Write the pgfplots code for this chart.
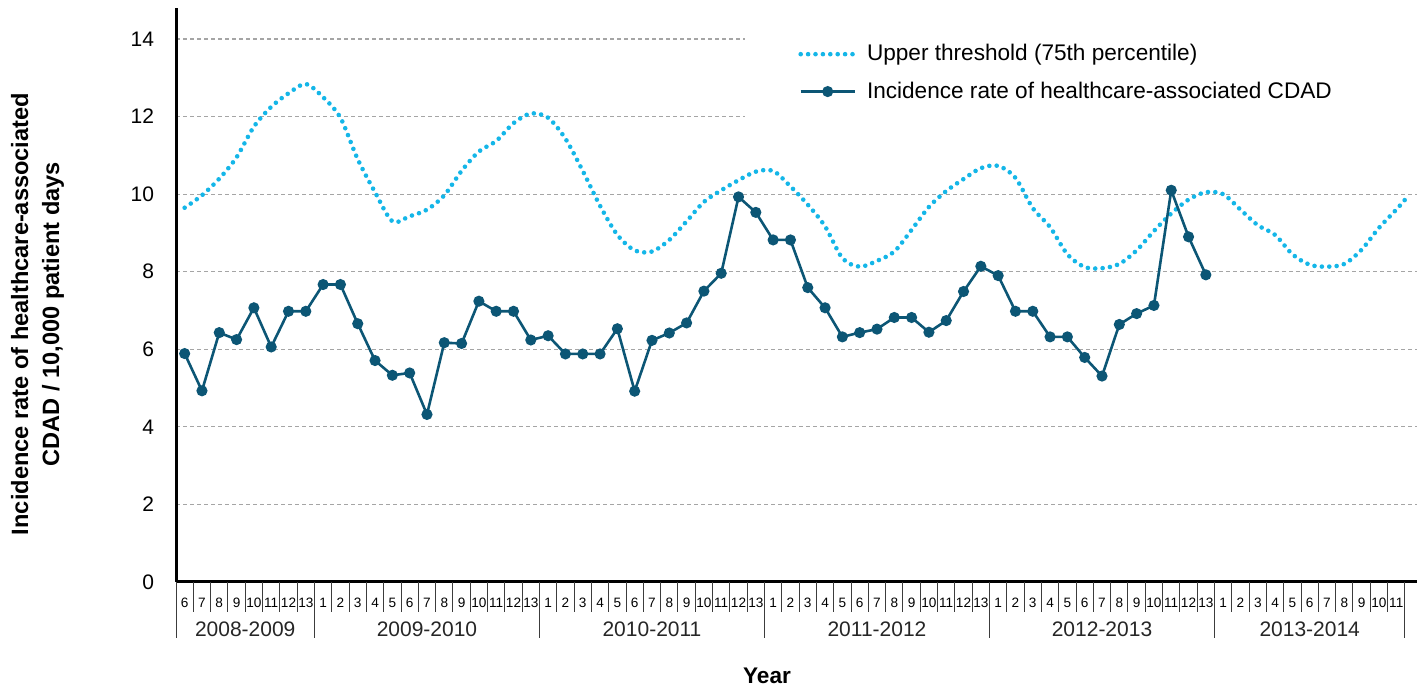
\documentclass[border=0pt]{standalone}
\usepackage{fontspec}
\setmainfont{Liberation Sans}
\usepackage{pgfplots}
\pgfplotsset{compat=1.18}
\definecolor{cdad}{RGB}{12,86,117}
\definecolor{thr}{RGB}{20,182,232}
\definecolor{gridgray}{RGB}{165,165,165}
\definecolor{sepcol}{RGB}{60,60,60}

\pgfplotstableread{
x y
0 9.65
1 9.97
2 10.40
3 10.95
4 11.74
5 12.25
6 12.60
7 12.84
8 12.50
9 11.97
10 10.90
11 10.05
12 9.30
13 9.43
14 9.60
15 9.97
16 10.60
17 11.10
18 11.37
19 11.83
20 12.08
21 11.97
22 11.43
23 10.60
24 9.70
25 8.95
26 8.55
27 8.52
28 8.82
29 9.30
30 9.80
31 10.10
32 10.36
33 10.58
34 10.60
35 10.20
36 9.73
37 9.17
38 8.35
39 8.13
40 8.28
41 8.52
42 9.08
43 9.67
44 10.08
45 10.39
46 10.67
47 10.73
48 10.42
49 9.64
50 9.15
51 8.45
52 8.12
53 8.09
54 8.20
55 8.55
56 9.05
57 9.50
58 9.86
59 10.05
60 10.00
61 9.60
62 9.20
63 8.95
64 8.45
65 8.18
66 8.13
67 8.20
68 8.57
69 9.13
70 9.60
70.55 9.88
}\thrtable

\pgfplotstableread{
x y
0 5.89
1 4.93
2 6.43
3 6.25
4 7.07
5 6.06
6 6.98
7 6.98
8 7.67
9 7.67
10 6.66
11 5.71
12 5.33
13 5.39
14 4.32
15 6.17
16 6.15
17 7.24
18 6.98
19 6.98
20 6.24
21 6.35
22 5.88
23 5.88
24 5.88
25 6.53
26 4.92
27 6.23
28 6.42
29 6.68
30 7.50
31 7.96
32 9.93
33 9.53
34 8.82
35 8.82
36 7.59
37 7.07
38 6.32
39 6.43
40 6.52
41 6.82
42 6.82
43 6.44
44 6.74
45 7.49
46 8.14
47 7.90
48 6.98
49 6.98
50 6.32
51 6.32
52 5.79
53 5.31
54 6.64
55 6.92
56 7.13
57 10.10
58 8.90
59 7.92
}\cdadtable

\begin{document}
\begin{tikzpicture}
\path[use as bounding box] (-88pt,-53.5pt) rectangle (623pt,291pt);
\begin{axis}[
  at={(0pt,0pt)}, anchor=south west, scale only axis,
  width=620.5pt, height=287pt,
  xmin=-0.5, xmax=71.2, ymin=0, ymax=14.8,
  axis lines*=left,
  axis line style={line width=1.5pt, black},
  ytick={0,2,...,14},
  xtick={0,...,70},
  xticklabels={6,7,8,9,10,11,12,13,
    1,2,3,4,5,6,7,8,9,10,11,12,13,
    1,2,3,4,5,6,7,8,9,10,11,12,13,
    1,2,3,4,5,6,7,8,9,10,11,12,13,
    1,2,3,4,5,6,7,8,9,10,11,12,13,
    1,2,3,4,5,6,7,8,9,10,11},
  major tick length=0pt,
  ymajorgrids,
  grid style={gridgray, line width=0.6pt, dash pattern=on 2pt off 1.5pt},
  /pgf/number format/assume math mode=true,
  yticklabel style={font=\fontsize{10.5}{12}\selectfont, anchor=east, xshift=-7.5pt},
  xticklabel style={font=\fontsize{6.8}{8}\selectfont, anchor=center, yshift=-10.5pt},
  clip=false,
  legend cell align=left,
  legend style={at={(rel axis cs:0.4585,0.958)}, anchor=north west,
    fill=white, draw=none, inner xsep=26.5pt, inner ysep=4pt,
    font=\fontsize{11.3}{13}\selectfont, row sep=5pt,
    /tikz/every odd column/.append style={column sep=3pt}},
  legend image code/.code={\draw[mark repeat=2,mark phase=2,#1] plot coordinates {(0pt,0pt) (13.5pt,0pt) (27pt,0pt)};},
]
\addplot[thr, line width=2.3pt, line cap=round, dash pattern=on 0pt off 3.7pt, smooth, tension=0.5] table[x=x,y=y] {\thrtable};
\addlegendentry{Upper threshold (75th percentile)}
\addplot[cdad, line width=1.3pt, mark=*, mark size=2.1pt, mark options={solid, fill=cdad, draw=cdad}] table[x=x,y=y] {\cdadtable};
\addlegendentry{Incidence rate of healthcare-associated CDAD}

\fill[white] (axis cs:32.4,11.6) rectangle (axis cs:71.3,14.5);

\pgfplotsinvokeforeach{-0.5,0.5,...,70.5}{
  \draw[sepcol, line width=0.5pt] (axis cs:#1,0) -- ++(0pt,-15pt);
}
\pgfplotsinvokeforeach{-0.5,7.5,20.5,33.5,46.5,59.5,70.5}{
  \draw[sepcol, line width=0.5pt] (axis cs:#1,0) -- ++(0pt,-28pt);
}
\node[font=\fontsize{10.5}{12}\selectfont, text=black!85] at ([yshift=-23.5pt]axis cs:3.5,0) {2008-2009};
\node[font=\fontsize{10.5}{12}\selectfont, text=black!85] at ([yshift=-23.5pt]axis cs:14,0) {2009-2010};
\node[font=\fontsize{10.5}{12}\selectfont, text=black!85] at ([yshift=-23.5pt]axis cs:27,0) {2010-2011};
\node[font=\fontsize{10.5}{12}\selectfont, text=black!85] at ([yshift=-23.5pt]axis cs:40,0) {2011-2012};
\node[font=\fontsize{10.5}{12}\selectfont, text=black!85] at ([yshift=-23.5pt]axis cs:53,0) {2012-2013};
\node[font=\fontsize{10.5}{12}\selectfont, text=black!85] at ([yshift=-23.5pt]axis cs:65,0) {2013-2014};
\end{axis}
\node[rotate=90, align=center, font=\bfseries\fontsize{11.8}{15.5}\selectfont] at (-69.25pt,134pt)
  {Incidence rate of healthcare-associated\\CDAD / 10,000 patient days};
\node[font=\bfseries\fontsize{11.3}{13}\selectfont] at (295.5pt,-47pt) {Year};
\end{tikzpicture}
\end{document}
